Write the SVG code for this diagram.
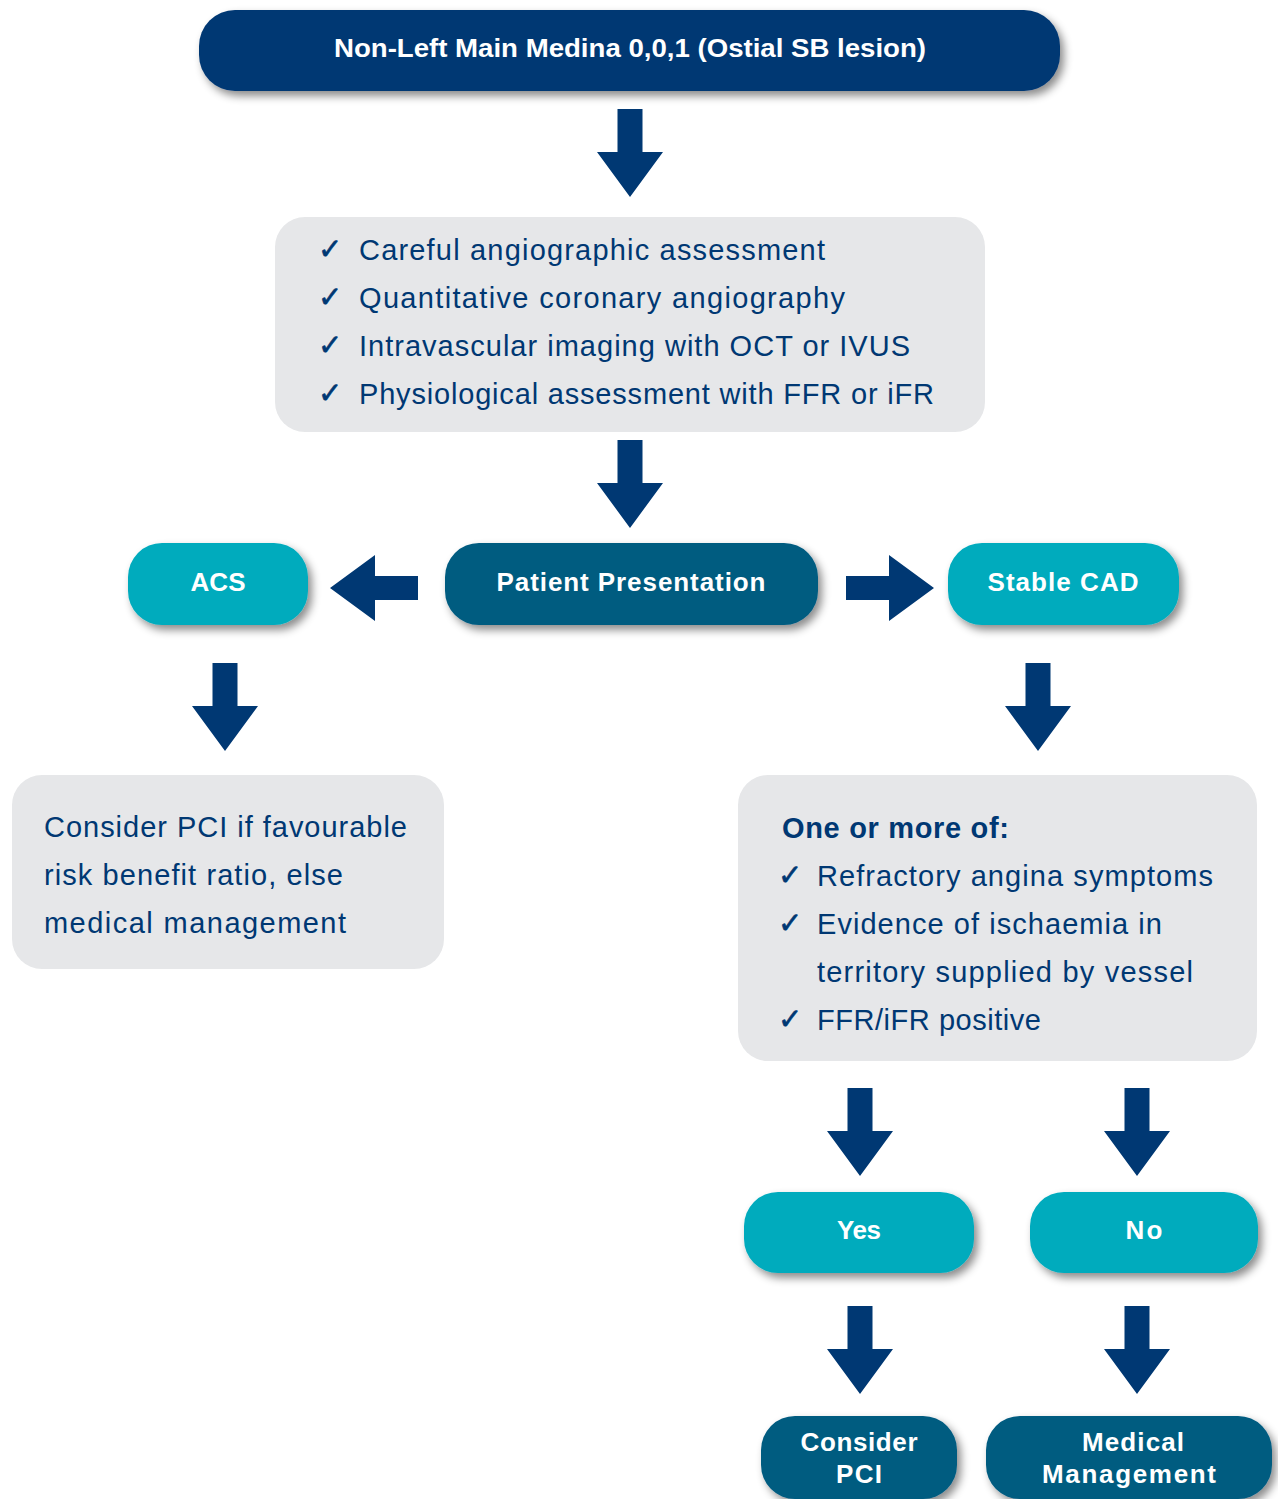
<svg xmlns="http://www.w3.org/2000/svg" xmlns:xlink="http://www.w3.org/1999/xlink" width="1278" height="1499" viewBox="0 0 1278 1499">
<style>
.navy{fill:#003873}
.cyan{fill:#00abbd}
.teal{fill:#005b80}
.gray{fill:#e6e7e9}
.wt{fill:#ffffff;font-family:"Liberation Sans",Arial,sans-serif;font-weight:700;text-anchor:middle}
.bt{fill:#003873;font-family:"Liberation Sans",Arial,sans-serif;font-size:29px}
.ck{fill:#003873;stroke:#003873;stroke-width:0.6;font-family:"DejaVu Sans",sans-serif;font-size:29px}
.arr{fill:#003873}
</style>
<defs>
<filter id="sh" x="-10%" y="-20%" width="125%" height="150%">
<feDropShadow dx="4" dy="5" stdDeviation="4" flood-color="#000" flood-opacity="0.45"/>
</filter>
<path id="ad" d="M-12.5,0 H12.5 V43 H33 L0,88 L-33,43 H-12.5 Z"/>
</defs>
<rect width="1278" height="1499" fill="#ffffff"/>

<g id="connectors" class="arr">
<use xlink:href="#ad" href="#ad" x="630" y="109"/>
<use xlink:href="#ad" href="#ad" x="630" y="440"/>
<use xlink:href="#ad" href="#ad" x="225" y="663"/>
<use xlink:href="#ad" href="#ad" x="1038" y="663"/>
<use xlink:href="#ad" href="#ad" x="860" y="1088"/>
<use xlink:href="#ad" href="#ad" x="1137" y="1088"/>
<use xlink:href="#ad" href="#ad" x="860" y="1306"/>
<use xlink:href="#ad" href="#ad" x="1137" y="1306"/>
<path d="M418,576 V600 H375 V621 L330,588 L375,555 V576 Z"/>
<path d="M846,576 V600 H889 V621 L934,588 L889,555 V576 Z"/>
</g>

<g id="n-top">
<rect class="navy" x="199" y="10" width="861" height="81" rx="36" filter="url(#sh)"/>
<text class="wt" x="630" y="57" font-size="25" textLength="592" lengthAdjust="spacingAndGlyphs">Non-Left Main Medina 0,0,1 (Ostial SB lesion)</text>
</g>

<g id="n-assess">
<rect class="gray" x="275" y="217" width="710" height="215" rx="30"/>
<text class="ck" x="318" y="259">✓</text>
<text class="ck" x="318" y="307">✓</text>
<text class="ck" x="318" y="355">✓</text>
<text class="ck" x="318" y="403">✓</text>
<text class="bt" x="359" y="260" textLength="466">Careful angiographic assessment</text>
<text class="bt" x="359" y="308" textLength="486">Quantitative coronary angiography</text>
<text class="bt" x="359" y="356" textLength="551">Intravascular imaging with OCT or IVUS</text>
<text class="bt" x="359" y="404" textLength="575">Physiological assessment with FFR or iFR</text>
</g>

<g id="n-patient">
<rect class="teal" x="445" y="543" width="373" height="82" rx="34" filter="url(#sh)"/>
<text class="wt" x="631" y="591" font-size="26" textLength="269">Patient Presentation</text>
</g>

<g id="n-acs">
<rect class="cyan" x="128" y="543" width="180" height="82" rx="34" filter="url(#sh)"/>
<text class="wt" x="218" y="591" font-size="26" textLength="55">ACS</text>
</g>

<g id="n-stable">
<rect class="cyan" x="948" y="543" width="231" height="82" rx="34" filter="url(#sh)"/>
<text class="wt" x="1063" y="591" font-size="26" textLength="151">Stable CAD</text>
</g>

<g id="n-acs-action">
<rect class="gray" x="12" y="775" width="432" height="194" rx="30"/>
<text class="bt" x="44" y="837" textLength="363">Consider PCI if favourable</text>
<text class="bt" x="44" y="885" textLength="299">risk benefit ratio, else</text>
<text class="bt" x="44" y="933" textLength="302">medical management</text>
</g>

<g id="n-criteria">
<rect class="gray" x="738" y="775" width="519" height="286" rx="30"/>
<text class="bt" x="782" y="838" font-weight="700" textLength="227">One or more of:</text>
<text class="ck" x="778" y="885">✓</text>
<text class="ck" x="778" y="933">✓</text>
<text class="ck" x="778" y="1029">✓</text>
<text class="bt" x="817" y="886" textLength="396">Refractory angina symptoms</text>
<text class="bt" x="817" y="934" textLength="345">Evidence of ischaemia in</text>
<text class="bt" x="817" y="982" textLength="376">territory supplied by vessel</text>
<text class="bt" x="817" y="1030" textLength="224">FFR/iFR positive</text>
</g>

<g id="n-yes">
<rect class="cyan" x="744" y="1192" width="230" height="81" rx="34" filter="url(#sh)"/>
<text class="wt" x="859" y="1239" font-size="26" textLength="44">Yes</text>
</g>

<g id="n-no">
<rect class="cyan" x="1030" y="1192" width="228" height="81" rx="34" filter="url(#sh)"/>
<text class="wt" x="1144" y="1239" font-size="26" textLength="37">No</text>
</g>

<g id="n-pci">
<rect class="teal" x="761" y="1416" width="196" height="83" rx="34" filter="url(#sh)"/>
<text class="wt" x="859" y="1451" font-size="26" textLength="117">Consider</text>
<text class="wt" x="859" y="1483" font-size="26" textLength="46">PCI</text>
</g>

<g id="n-medical">
<rect class="teal" x="986" y="1416" width="286" height="83" rx="34" filter="url(#sh)"/>
<text class="wt" x="1133" y="1451" font-size="26" textLength="102">Medical</text>
<text class="wt" x="1129" y="1483" font-size="26" textLength="174">Management</text>
</g>
</svg>
